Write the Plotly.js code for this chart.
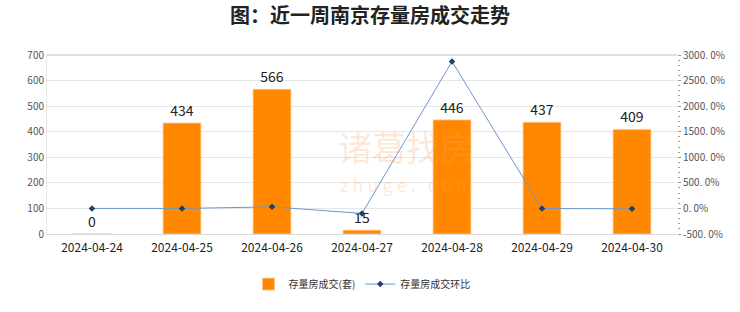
<!DOCTYPE html>
<html>
<head>
<meta charset="utf-8">
<script src="https://cdn.plot.ly/plotly-3.0.1.min.js"></script>
<style>html,body{margin:0;padding:0;background:#fff;}#chart{width:740px;height:312px;}</style>
</head>
<body>
<div id="chart"></div>
<script>
const dates = ["2024-04-24","2024-04-25","2024-04-26","2024-04-27","2024-04-28","2024-04-29","2024-04-30"];
const deals = [0, 434, 566, 15, 446, 437, 409];
const ratio = [0, 0, 30.4, -97.3, 2873.3, -2.0, -6.4];
const rightTickVals = [-500, 0, 500, 1000, 1500, 2000, 2500, 3000];
const rightTickText = ["-500. 0%", "0. 0%", "500. 0%", "1000. 0%", "1500. 0%", "2000. 0%", "2500. 0%", "3000. 0%"];
const barName = "存量房成交(套)";
const lineName = "存量房成交环比";
const titleText = "图：近一周南京存量房成交走势";

const font = "Noto Sans CJK SC, Noto Sans, sans-serif";

const traces = [
  {
    type: "bar", x: dates, y: deals, name: barName,
    marker: {color: "#FF8800", line: {color: "#FFC68C", width: 0.8}},
    width: 0.42,
    text: deals.map(String), textposition: "outside", cliponaxis: false,
    textfont: {size: 14, color: "#222", family: font},
    hoverinfo: "x+y"
  },
  {
    type: "scatter", mode: "lines+markers", x: dates, y: ratio, name: lineName, yaxis: "y2",
    line: {color: "#6C98C8", width: 1},
    marker: {symbol: "diamond", size: 5, color: "#1F3F66"}
  }
];

const layout = {
  width: 740, height: 312,
  margin: {l: 47, r: 63, t: 55, b: 78},
  paper_bgcolor: "#fff", plot_bgcolor: "#fff",
  font: {family: font, color: "#333"},
  title: {text: titleText, x: 0.5, xanchor: "center", y: 0.95, yanchor: "middle",
          font: {size: 20, color: "#222", family: font, weight: 700}},
  showlegend: true,
  legend: {orientation: "h", x: 0.5, xanchor: "center", y: -0.28, yanchor: "middle",
           font: {size: 10, color: "#333"}, itemwidth: 30},
  bargap: 0.5,
  xaxis: {
    type: "category", showgrid: false, zeroline: false,
    showline: true, linecolor: "#D9D9D9", linewidth: 1,
    ticks: "", tickfont: {size: 12, color: "#222"}, ticklabelstandoff: 3
  },
  yaxis: {
    range: [0, 700], dtick: 100, showgrid: true, gridcolor: "#E6E6E6", gridwidth: 1,
    zeroline: false, showline: true, linecolor: "#E6E6E6", mirror: false,
    tickfont: {size: 10, color: "#555"}, ticks: ""
  },
  yaxis2: {
    overlaying: "y", side: "right", range: [-500, 3000],
    tickvals: rightTickVals, ticktext: rightTickText,
    showgrid: false, zeroline: false, showline: false,
    ticks: "outside", ticklen: 3, tickcolor: "#999",
    minor: {dtick: 100, ticks: "outside", ticklen: 2, tickcolor: "#999", showgrid: false},
    tickfont: {size: 10, color: "#555"}
  },
  shapes: [
    {type: "line", xref: "paper", yref: "paper", x0: 0, x1: 1, y0: 1, y1: 1, line: {color: "#E0E0E0", width: 2}}
  ],
  annotations: [
    {text: "诸葛找房", xref: "paper", yref: "paper", x: 0.57, y: 0.49, yanchor: "middle", showarrow: false,
     font: {size: 34, color: "rgba(250,165,100,0.25)", family: font}},
    {text: "z h u g e .   c o m", xref: "paper", yref: "paper", x: 0.57, y: 0.28, yanchor: "middle", showarrow: false,
     font: {size: 18, color: "rgba(250,165,100,0.25)", family: font}}
  ]
};

Plotly.newPlot("chart", traces, layout, {displayModeBar: false, staticPlot: true});
</script>
</body>
</html>
